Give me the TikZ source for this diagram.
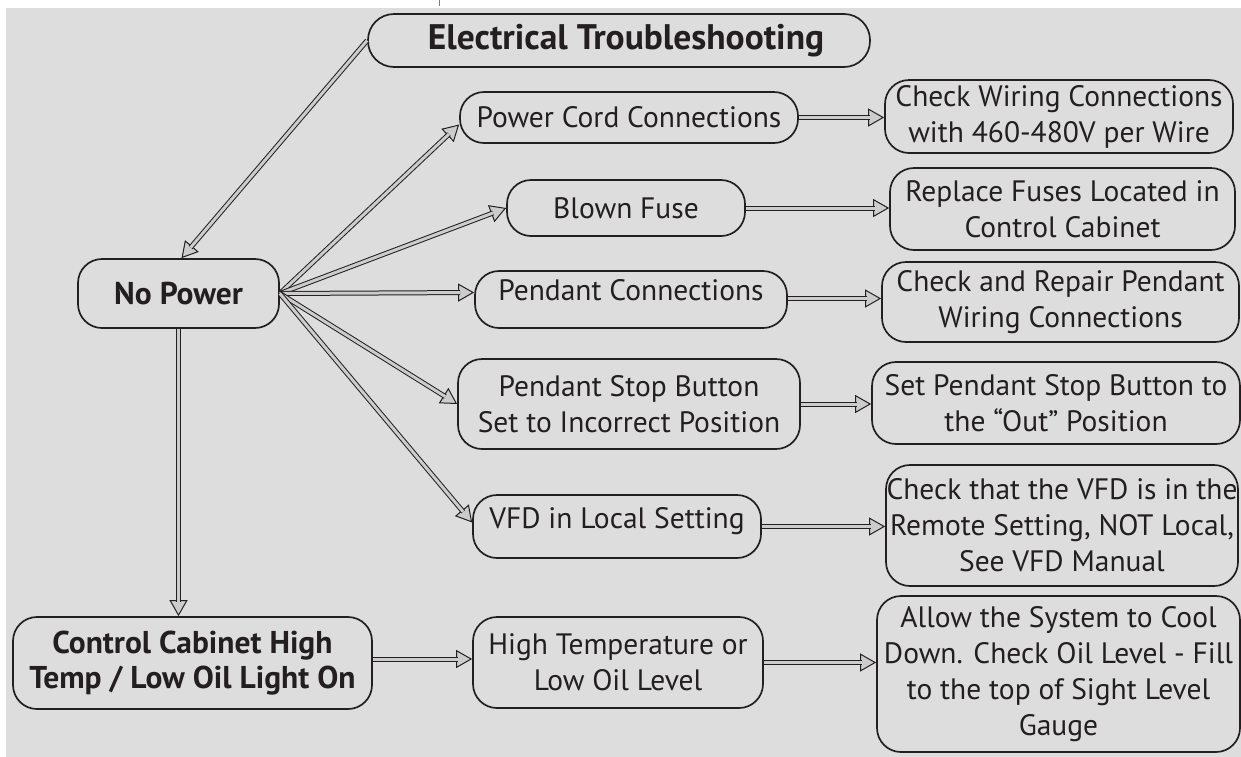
\documentclass[tikz,border=0pt]{standalone}
\usepackage{fontspec}
\setmainfont{PT Sans}
\usetikzlibrary{arrows.meta,calc}
\definecolor{bg}{HTML}{DDDDDD}
\definecolor{agray}{HTML}{CCCCCC}
\definecolor{ink}{HTML}{231F20}
\newcommand\dblconn[2]{\draw[arrhead] #1 -- #2; \draw[arrshaft] #1 -- #2;}
\newcommand\upby[2]{\raisebox{#1}[\height][\depth]{#2}}
\begin{document}
\begin{tikzpicture}[x=1pt,y=-1pt,
 box/.style={draw=ink, line width=1.7pt, rounded corners=24pt, align=center, inner sep=0pt, text=ink, font=\fontsize{29.5}{36}\selectfont},
 bbox/.style={box, font=\fontsize{31.5}{35}\selectfont\bfseries},
 arrhead/.style={draw=ink, line width=1pt, -{Triangle[length=16pt,width=18pt,fill=agray]}},
 arrshaft/.style={draw=ink, line width=1pt, double=agray, double distance=3pt, shorten >=14pt}]
\useasboundingbox (0,0) rectangle (1241,756);
\fill[white] (-5,-5) rectangle (1250,765);
\fill[bg] (6,8) rectangle (1250,765);
\draw[gray, line width=1pt] (439,0) -- (439,6);
% nodes
\node[bbox, font=\fontsize{35.5}{40}\selectfont\bfseries, rounded corners=26pt, minimum width=502pt, minimum height=53pt] (title) at (619,40.5) {\hspace*{14pt}Electrical Troubleshooting};
\node[bbox, minimum width=201pt, minimum height=69pt] (np) at (178.5,293.5) {No Power};
\node[bbox, minimum width=359pt, minimum height=92pt] (cc) at (192.5,663) {Control Cabinet High\\Temp / Low Oil Light On};
\node[box, minimum width=338pt, minimum height=51pt] (pc) at (629,117.5) {Power Cord Connections};
\node[box, minimum width=238pt, minimum height=56pt] (bf) at (626,208) {Blown Fuse};
\node[box, minimum width=312pt, minimum height=57pt] (pdc) at (631,299.5) {\upby{9pt}{Pendant Connections}};
\node[box, minimum width=342pt, minimum height=90pt] (ps) at (629,404) {Pendant Stop Button\\Set to Incorrect Position};
\node[box, minimum width=288pt, minimum height=63pt] (vfd) at (617,526.5) {\upby{5pt}{VFD in Local Setting}};
\node[box, minimum width=290pt, minimum height=91pt] (ht) at (618,662.5) {High Temperature or\\Low Oil Level};
\node[box, minimum width=348pt, minimum height=73pt] (cw) at (1059,116.5) {Check Wiring Connections\\with 460-480V per Wire};
\node[box, minimum width=345pt, minimum height=82pt] (rf) at (1062.5,209) {Replace Fuses Located in\\Control Cabinet};
\node[box, minimum width=357pt, minimum height=80pt] (cr) at (1060.5,302) {Check and Repair Pendant\\Wiring Connections};
\node[box, minimum width=368pt, minimum height=82pt] (sp) at (1056,403) {Set Pendant Stop Button to\\the “Out” Position};
\node[box, minimum width=352pt, minimum height=121pt] (cv) at (1062,525.5) {Check that the VFD is in the\\Remote Setting, NOT Local,\\See VFD Manual};
\node[box, minimum width=363pt, minimum height=156pt] (al) at (1058.5,674) {Allow the System to Cool\\Down. Check Oil Level - Fill\\to the top of Sight Level\\Gauge};
% connectors
\dblconn{(title.west)}{([xshift=3pt]np.north)}
\dblconn{(np.south)}{(np.south |- cc.north)}
\dblconn{(np.east)}{([yshift=-7pt]pc.west)}
\dblconn{(np.east)}{(bf.west)}
\dblconn{(np.east)}{([yshift=7pt]pdc.west)}
\dblconn{(np.east)}{(ps.west)}
\dblconn{(np.east)}{([yshift=4pt]vfd.west)}
\dblconn{(pc.east)}{(pc.east -| cw.west)}
\dblconn{(bf.east)}{(bf.east -| rf.west)}
\dblconn{([yshift=1pt]pdc.east)}{([yshift=1pt]pdc.east -| cr.west)}
\dblconn{(ps.east)}{(ps.east -| sp.west)}
\dblconn{(vfd.east)}{(vfd.east -| cv.west)}
\dblconn{([yshift=4pt]cc.east)}{([yshift=4pt]cc.east -| ht.west)}
\dblconn{(ht.east)}{(ht.east -| al.west)}
\end{tikzpicture}
\end{document}
